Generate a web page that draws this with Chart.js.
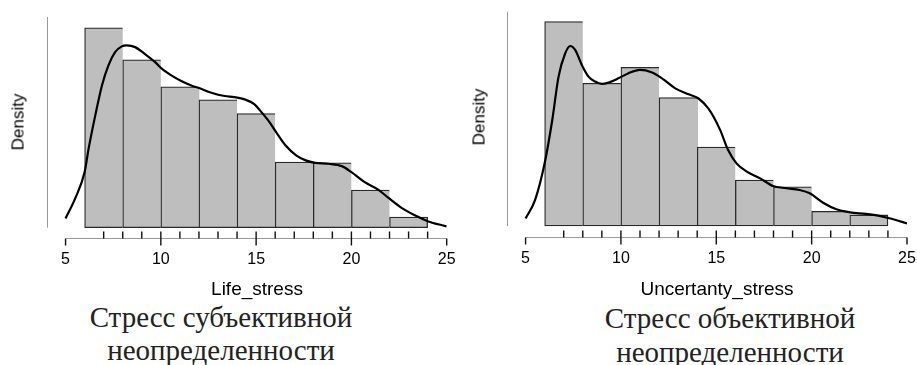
<!DOCTYPE html>
<html>
<head>
<meta charset="utf-8">
<script src="https://cdn.jsdelivr.net/npm/chart.js@4.4.1/dist/chart.umd.min.js"></script>
<style>
  body { margin: 0; background: #fff; }
  #wrap { position: relative; width: 917px; height: 365px; overflow: hidden; }
  canvas { position: absolute; top: 0; }
  .lbl { position: absolute; white-space: nowrap; line-height: 1; transform: translate(-50%, -50%); }
  .sans { font-family: "Liberation Sans", Arial, sans-serif; font-size: 19px; color: #000; }
  .rot { font-size: 17px; transform: translate(-50%, -50%) rotate(-90deg); }
  .serif { font-family: "Liberation Serif", "Times New Roman", serif; font-size: 29px; color: #222; }
</style>
</head>
<body>
<div id="wrap">
  <canvas id="lifeChart" width="460" height="280" style="left:0"></canvas>
  <canvas id="uncChart" width="457" height="280" style="left:460px"></canvas>

  <div class="lbl sans rot" style="left:18px;top:122px">Density</div>
  <div class="lbl sans rot" style="left:479px;top:117px">Density</div>
  <div class="lbl sans" style="left:257px;top:288px">Life_stress</div>
  <div class="lbl sans" style="left:717px;top:288px">Uncertanty_stress</div>

  <div class="lbl serif" style="left:221px;top:317px">Стресс субъективной</div>
  <div class="lbl serif" style="left:221px;top:350px">неопределенности</div>
  <div class="lbl serif" style="left:730px;top:318px">Стресс объективной</div>
  <div class="lbl serif" style="left:730px;top:352px">неопределенности</div>
</div>

<script>
// histogram bins (width 2)
const binCenters = [7, 9, 11, 13, 15, 17, 19, 21, 23];
const xTicks = [5, 10, 15, 20, 25];
const rugValues = [7, 8, 9, 10, 11, 12, 13, 14, 15, 16, 17, 18, 19, 20, 21, 22, 23, 24];

// Life_stress
const lifeDensity = [0.1075, 0.0903, 0.0758, 0.0688, 0.0614, 0.0353, 0.0349, 0.0202, 0.0057];
const lifeCurveX = [5.0, 5.5, 6.0, 6.21, 6.56, 6.91, 7.25, 7.6, 7.95, 8.2, 8.65, 9.15, 9.7, 10.05, 10.55, 11.1, 11.6, 12.0, 12.65, 13.35, 13.85, 14.4, 14.9, 15.2, 15.7, 16.05, 16.55, 17.1, 17.6, 18.1, 18.8, 19.5, 20.0, 20.7, 21.4, 21.95, 22.65, 23.35, 24.0, 25.0];
const lifeCurveY = [0.0050, 0.0156, 0.0299, 0.0425, 0.0604, 0.0765, 0.0873, 0.0944, 0.0975, 0.0980, 0.0971, 0.0935, 0.0890, 0.0855, 0.0819, 0.0787, 0.0765, 0.0751, 0.0726, 0.0708, 0.0702, 0.0690, 0.0664, 0.0631, 0.0568, 0.0514, 0.0442, 0.0389, 0.0362, 0.0349, 0.0344, 0.0331, 0.0299, 0.0245, 0.0205, 0.0160, 0.0105, 0.0066, 0.0035, 0.0007];

// Uncertanty_stress
const uncDensity = [0.1240, 0.0866, 0.0963, 0.0779, 0.0479, 0.0279, 0.0238, 0.0089, 0.0067];
const uncCurveX = [5.0, 5.5, 6.0, 6.4, 6.73, 7.08, 7.34, 7.6, 7.95, 8.3, 8.65, 9.0, 9.35, 9.87, 10.4, 11.0, 11.6, 12.15, 12.85, 13.55, 14.05, 14.6, 15.2, 15.62, 16.06, 16.6, 17.3, 17.97, 18.67, 19.37, 19.9, 20.6, 21.3, 22.0, 22.85, 23.55, 24.07, 25.0];
const uncCurveY = [0.0045, 0.0158, 0.0380, 0.0643, 0.0906, 0.1048, 0.1092, 0.1068, 0.0977, 0.0906, 0.0876, 0.0862, 0.0870, 0.0896, 0.0927, 0.0947, 0.0933, 0.0896, 0.0835, 0.0799, 0.0775, 0.0710, 0.0583, 0.0461, 0.0380, 0.0330, 0.0289, 0.0243, 0.0229, 0.0218, 0.0198, 0.0141, 0.0101, 0.0083, 0.0073, 0.0061, 0.0047, 0.0016];

// JASP-style axes: short y line, x line from 5 to 25, ticks, labels, rug marks
const jaspAxes = {
  id: "jaspAxes",
  afterDraw(chart) {
    const ctx = chart.ctx;
    const x = chart.scales.x;
    const y = chart.scales.y;
    const by = Math.round(chart.chartArea.bottom) + 0.5;
    ctx.save();
    ctx.lineWidth = 1;
    ctx.strokeStyle = "#9a9a9a";
    ctx.beginPath();
    const yx = Math.round(x.getPixelForValue(4)) + 0.5;
    ctx.moveTo(yx, y.getPixelForValue(0));
    ctx.lineTo(yx, y.getPixelForValue(y.max));
    ctx.moveTo(x.getPixelForValue(5), by);
    ctx.lineTo(x.getPixelForValue(25), by);
    ctx.stroke();

    ctx.strokeStyle = "#111";
    ctx.lineWidth = 1.4;
    ctx.beginPath();
    xTicks.forEach(v => {
      const px = x.getPixelForValue(v);
      ctx.moveTo(px, by);
      ctx.lineTo(px, by + 7);
    });
    rugValues.forEach(v => {
      const px = x.getPixelForValue(v);
      ctx.moveTo(px, by - 7);
      ctx.lineTo(px, by);
    });
    ctx.stroke();

    ctx.fillStyle = "#000";
    ctx.font = "16px 'Liberation Sans', Arial, sans-serif";
    ctx.textAlign = "center";
    ctx.textBaseline = "alphabetic";
    x.ticks.forEach(t => {
      ctx.fillText(String(t.value), x.getPixelForValue(t.value), by + 25);
    });
    ctx.restore();
  }
};

function makeHist(id, bars, curveX, curveY, yMin, yMax, pad) {
  const ctx = document.getElementById(id).getContext("2d");
  return new Chart(ctx, {
    data: {
      datasets: [
        {
          type: "line",
          data: curveX.map((v, i) => ({ x: v, y: curveY[i] })),
          borderColor: "#000",
          borderWidth: 2.2,
          pointRadius: 0,
          fill: false,
          cubicInterpolationMode: "monotone",
          order: 0
        },
        {
          type: "bar",
          data: binCenters.map((v, i) => ({ x: v, y: bars[i] })),
          backgroundColor: "#bebebe",
          borderColor: "#2a2a2a",
          borderWidth: c => ({ left: 1.3, top: 1.3, bottom: 1.3, right: c.dataIndex === binCenters.length - 1 ? 1.3 : 0 }),
          borderSkipped: false,
          barPercentage: 1,
          categoryPercentage: 1,
          order: 1
        }
      ]
    },
    options: {
      responsive: false,
      animation: false,
      devicePixelRatio: 1,
      layout: { padding: pad },
      plugins: { legend: { display: false }, tooltip: { enabled: false } },
      scales: {
        x: {
          type: "linear",
          display: false,
          min: 4,
          max: 25,
          offset: false,
          afterBuildTicks: s => { s.ticks = xTicks.map(v => ({ value: v })); }
        },
        y: { display: false, min: yMin, max: yMax }
      }
    },
    plugins: [jaspAxes]
  });
}

makeHist("lifeChart", lifeDensity, lifeCurveX, lifeCurveY, -0.0057, 0.1133,
  { left: 46.5, right: 13.3, top: 17, bottom: 41.7 });
makeHist("uncChart", uncDensity, uncCurveX, uncCurveY, -0.0065, 0.130,
  { left: 46.5, right: 10, top: 11.7, bottom: 43.3 });
</script>
</body>
</html>
